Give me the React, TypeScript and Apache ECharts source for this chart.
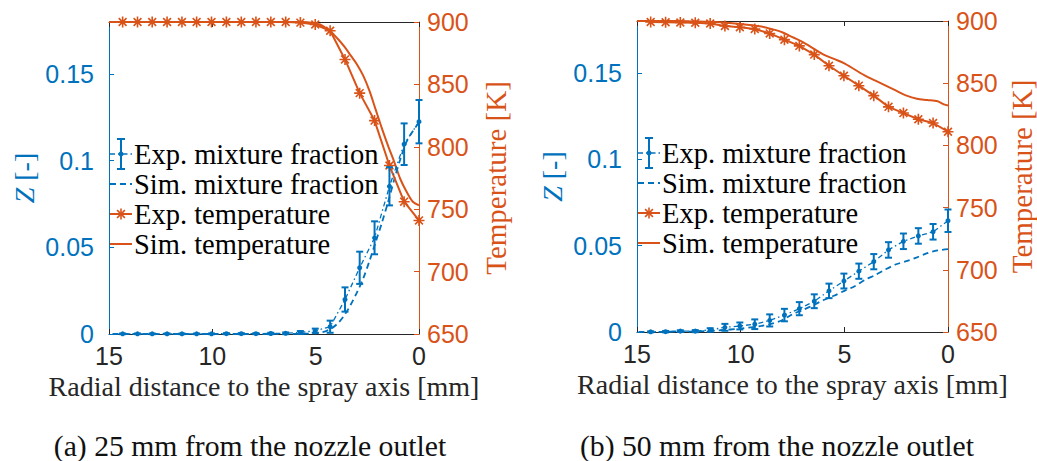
import React, { useEffect, useRef } from "react";
import * as echarts from "echarts";

const BLUE = "#0072BD";
const ORANGE = "#D95319";
const INK = "#262626";
const SANS = "'Liberation Sans', Arial, sans-serif";
const SERIF = "'Liberation Serif', 'Times New Roman', serif";

// Radial measurement stations [mm]
const STATIONS = [0, 0.72, 1.43, 2.15, 2.87, 3.58, 4.3, 5.02, 5.74, 6.45, 7.17, 7.89, 8.6, 9.32, 10.04, 10.76, 11.47, 12.19, 12.91, 13.62, 14.34];

// (a) 25 mm from the nozzle outlet
const EXP_Z_A = [0.1225, 0.1095, 0.0852, 0.0555, 0.0382, 0.0199, 0.0042, 0.0019, 0.0009, 0.0004, 0.0003, 0.0002, 0.0002, 0.0002, 0.0001, 0.0001, 0.0001, 0.0001, 0.0001, 0.0001, 0.0001];
const EXP_Z_ERR_A = [0.0125, 0.012, 0.011, 0.0095, 0.0093, 0.007, 0.0035, 0.0012, 0.0008, 0.0005, 0.0004, 0.0003, 0.0003, 0.0003, 0.0002, 0.0002, 0.0002, 0.0002, 0.0002, 0.0002, 0.0002];
const EXP_T_A = [741, 756, 785, 821, 843, 870, 893, 898, 899.5, 900, 900, 900, 900, 900, 900, 900, 900, 900, 900, 900, 900];
const SIM_Z_R_A = [0, 0.3, 0.6, 0.9, 1.2, 1.5, 1.8, 2.1, 2.4, 2.7, 3.0, 3.3, 3.6, 3.9, 4.2, 4.5, 4.8, 5.2, 6, 8, 11, 15];
const SIM_Z_A = [0.122, 0.117, 0.111, 0.101, 0.089, 0.076, 0.064, 0.053, 0.042, 0.032, 0.024, 0.017, 0.011, 0.0065, 0.0035, 0.0017, 0.0008, 0.0003, 0.0001, 0, 0, 0];
const SIM_T_R_A = [0, 0.3, 0.6, 0.9, 1.2, 1.5, 1.8, 2.1, 2.4, 2.7, 3.0, 3.3, 3.6, 3.9, 4.2, 4.5, 4.8, 5.2, 5.6, 6, 8, 11, 15];
const SIM_T_A = [753, 756, 764, 774, 788, 801, 815, 830, 845, 857, 866, 873, 880, 886, 891, 895, 898, 899.5, 900, 900, 900, 900, 900];

// (b) 50 mm from the nozzle outlet
const EXP_Z_B = [0.0644, 0.058, 0.0556, 0.0525, 0.0475, 0.0407, 0.0352, 0.0295, 0.0238, 0.0178, 0.0135, 0.0098, 0.0067, 0.0045, 0.0035, 0.0027, 0.0012, 0.0005, 0.0005, 0.0002, 0.0001];
const EXP_Z_ERR_B = [0.0065, 0.0045, 0.0045, 0.0045, 0.0045, 0.0044, 0.0044, 0.0043, 0.0042, 0.004, 0.0038, 0.0036, 0.0035, 0.0028, 0.002, 0.002, 0.001, 0.0006, 0.0005, 0.0004, 0.0003];
const EXP_T_B = [811, 818, 821, 826, 831, 840, 848, 856, 864, 873, 880, 885, 890, 893.6, 895, 896, 898, 898.6, 898.8, 899, 899.2];
const SIM_Z_R_B = [0, 0.5, 1, 1.5, 2, 2.5, 3, 3.5, 4, 4.5, 5, 5.5, 6, 6.5, 7, 7.5, 8, 8.5, 9, 10, 11, 12, 13, 15];
const SIM_Z_B = [0.048, 0.0472, 0.0456, 0.0432, 0.041, 0.0392, 0.0363, 0.033, 0.0302, 0.0265, 0.0238, 0.021, 0.0185, 0.0155, 0.0128, 0.0103, 0.0068, 0.0048, 0.0035, 0.002, 0.001, 0.0004, 0.0002, 0];
const SIM_T_R_B = [0, 0.2, 0.5, 1, 1.5, 2, 2.5, 3, 3.5, 4, 4.5, 5, 5.5, 6, 6.5, 7, 7.5, 8, 8.5, 9, 10, 11, 12, 13, 15];
const SIM_T_B = [832, 833, 835.5, 836.5, 837.5, 840, 844, 848, 852, 856, 861, 866, 869.5, 873, 878, 883, 887, 891, 893.5, 895.5, 897.6, 899, 899.5, 900, 900];

const LEGEND_LABELS = [
  "Exp. mixture fraction",
  "Sim. mixture fraction",
  "Exp. temperature",
  "Sim. temperature",
];
const CAPTIONS = [
  "(a) 25 mm from the nozzle outlet",
  "(b) 50 mm from the nozzle outlet",
];
const X_NAME = "Radial distance to the spray axis [mm]";

const ASTERISK = "path://M0,-10L0,10M-10,0L10,0M-7.1,-7.1L7.1,7.1M-7.1,7.1L7.1,-7.1";

type Panel = {
  rect: { left: number; top: number; width: number; height: number };
  expZ: number[];
  expZErr: number[];
  expT: number[];
  simZR: number[];
  simZ: number[];
  simTR: number[];
  simT: number[];
  tempGap: number;
  caption: string;
  captionX: number;
};

const PANELS: Panel[] = [
  {
    rect: { left: 109, top: 22, width: 310, height: 312 },
    expZ: EXP_Z_A, expZErr: EXP_Z_ERR_A, expT: EXP_T_A,
    simZR: SIM_Z_R_A, simZ: SIM_Z_A, simTR: SIM_T_R_A, simT: SIM_T_A,
    tempGap: 62, caption: CAPTIONS[0], captionX: 250,
  },
  {
    rect: { left: 637, top: 21, width: 311, height: 311 },
    expZ: EXP_Z_B, expZErr: EXP_Z_ERR_B, expT: EXP_T_B,
    simZR: SIM_Z_R_B, simZ: SIM_Z_B, simTR: SIM_T_R_B, simT: SIM_T_B,
    tempGap: 59, caption: CAPTIONS[1], captionX: 777,
  },
];

const zip = (xs: number[], ys: number[]) => xs.map((x, i) => [x, ys[i]]);

function errorBarRenderer(params: any, api: any) {
  const x = api.value(0);
  const y = api.value(1);
  const e = api.value(2);
  const hi = api.coord([x, y + e]);
  const lo = api.coord([x, y - e]);
  const hw = 3.5;
  const style = { stroke: BLUE, lineWidth: 2 };
  return {
    type: "group",
    children: [
      { type: "line", shape: { x1: hi[0], y1: hi[1], x2: lo[0], y2: lo[1] }, style },
      { type: "line", shape: { x1: hi[0] - hw, y1: hi[1], x2: hi[0] + hw, y2: hi[1] }, style },
      { type: "line", shape: { x1: lo[0] - hw, y1: lo[1], x2: lo[0] + hw, y2: lo[1] }, style },
    ],
  };
}

function legendGraphic(L: number, T: number) {
  const rows = LEGEND_LABELS.map((_, k) => T + 132 + k * 30);
  const x0 = L + 1;
  const x1 = L + 23;
  const xc = L + 12;
  const items: any[] = [];
  // Exp. mixture fraction: dash-dot line, error bar, dot
  items.push({ type: "line", shape: { x1: x0, y1: rows[0], x2: x1, y2: rows[0] }, style: { stroke: BLUE, lineWidth: 1.3, lineDash: [5, 3, 1.5, 3] } });
  items.push({ type: "line", shape: { x1: xc, y1: rows[0] - 15, x2: xc, y2: rows[0] + 15 }, style: { stroke: BLUE, lineWidth: 2 } });
  items.push({ type: "line", shape: { x1: xc - 4, y1: rows[0] - 15, x2: xc + 4, y2: rows[0] - 15 }, style: { stroke: BLUE, lineWidth: 2 } });
  items.push({ type: "line", shape: { x1: xc - 4, y1: rows[0] + 15, x2: xc + 4, y2: rows[0] + 15 }, style: { stroke: BLUE, lineWidth: 2 } });
  items.push({ type: "circle", shape: { cx: xc, cy: rows[0], r: 2.5 }, style: { fill: BLUE } });
  // Sim. mixture fraction: dashed
  items.push({ type: "line", shape: { x1: x0, y1: rows[1], x2: x1, y2: rows[1] }, style: { stroke: BLUE, lineWidth: 1.8, lineDash: [6, 4] } });
  // Exp. temperature: line with asterisk
  items.push({ type: "line", shape: { x1: x0, y1: rows[2], x2: x1, y2: rows[2] }, style: { stroke: ORANGE, lineWidth: 2 } });
  const r = 5.5;
  const d = r * 0.71;
  [[0, -r, 0, r], [-r, 0, r, 0], [-d, -d, d, d], [-d, d, d, -d]].forEach(([a, b, c, e]) => {
    items.push({ type: "line", shape: { x1: xc + a, y1: rows[2] + b, x2: xc + c, y2: rows[2] + e }, style: { stroke: ORANGE, lineWidth: 1.6 } });
  });
  // Sim. temperature: solid
  items.push({ type: "line", shape: { x1: x0, y1: rows[3], x2: x1, y2: rows[3] }, style: { stroke: ORANGE, lineWidth: 2 } });
  LEGEND_LABELS.forEach((label, k) => {
    items.push({
      type: "text",
      x: L + 25,
      y: rows[k],
      style: {
        text: label,
        fill: "#000",
        font: `28.5px ${SERIF}`,
        align: "left",
        textAlign: "left",
        verticalAlign: "middle",
        textVerticalAlign: "middle",
      },
    });
  });
  return items;
}

function buildOption() {
  const grid: any[] = [];
  const xAxis: any[] = [];
  const yAxis: any[] = [];
  const series: any[] = [];
  const graphic: any[] = [];

  PANELS.forEach((p, i) => {
    grid.push({ ...p.rect, containLabel: false });
    const xBase = {
      type: "value",
      gridIndex: i,
      min: 0,
      max: 15,
      interval: 5,
      inverse: true,
      splitLine: { show: false },
      axisLine: { show: true, onZero: false, lineStyle: { color: INK, width: 1 } },
      axisTick: { show: true, inside: true, length: 5, lineStyle: { color: INK } },
    };
    xAxis.push({
      ...xBase,
      position: "bottom",
      axisLabel: { color: INK, fontSize: 25, fontFamily: SANS, margin: 9 },
      name: X_NAME,
      nameLocation: "middle",
      nameGap: 37,
      nameTextStyle: { color: INK, fontSize: 28, fontFamily: SERIF },
    });
    xAxis.push({ ...xBase, position: "top", axisLabel: { show: false } });

    yAxis.push({
      type: "value",
      gridIndex: i,
      position: "left",
      min: 0,
      max: 0.18,
      interval: 0.05,
      splitLine: { show: false },
      axisLine: { show: true, onZero: false, lineStyle: { color: BLUE, width: 1 } },
      axisTick: { show: true, inside: true, length: 5, lineStyle: { color: BLUE } },
      axisLabel: { color: BLUE, fontSize: 25, fontFamily: SANS, margin: 15, showMaxLabel: false },
      name: "{i|Z} [-]",
      nameLocation: "middle",
      nameRotate: 90,
      nameGap: 71,
      nameTextStyle: {
        color: BLUE,
        fontSize: 28,
        fontFamily: SERIF,
        rich: { i: { fontStyle: "italic", fontSize: 28, fontFamily: SERIF, color: BLUE } },
      },
    });
    yAxis.push({
      type: "value",
      gridIndex: i,
      position: "right",
      min: 650,
      max: 900,
      interval: 50,
      splitLine: { show: false },
      axisLine: { show: true, onZero: false, lineStyle: { color: ORANGE, width: 1 } },
      axisTick: { show: true, inside: true, length: 5, lineStyle: { color: ORANGE } },
      axisLabel: { color: ORANGE, fontSize: 25, fontFamily: SANS, margin: 8 },
      name: "Temperature [K]",
      nameLocation: "middle",
      nameRotate: 90,
      nameGap: p.tempGap,
      nameTextStyle: { color: ORANGE, fontSize: 29, fontFamily: SERIF },
    });

    const xi = i * 2;
    const zi = i * 2;
    const ti = i * 2 + 1;

    series.push({
      name: LEGEND_LABELS[3],
      type: "line",
      xAxisIndex: xi,
      yAxisIndex: ti,
      data: zip(p.simTR, p.simT),
      showSymbol: false,
      smooth: 0.3,
      lineStyle: { color: ORANGE, width: 2 },
      z: 2,
    });
    series.push({
      name: LEGEND_LABELS[2],
      type: "line",
      xAxisIndex: xi,
      yAxisIndex: ti,
      data: zip(STATIONS, p.expT),
      symbol: ASTERISK,
      symbolSize: 11,
      lineStyle: { color: ORANGE, width: 2 },
      itemStyle: { color: ORANGE, borderColor: ORANGE, borderWidth: 1.6 },
      clip: false,
      z: 3,
    });
    series.push({
      name: LEGEND_LABELS[1],
      type: "line",
      xAxisIndex: xi,
      yAxisIndex: zi,
      data: zip(p.simZR, p.simZ),
      showSymbol: false,
      smooth: 0.3,
      lineStyle: { color: BLUE, width: 1.8, type: [6, 4] },
      z: 2,
    });
    series.push({
      name: LEGEND_LABELS[0],
      type: "line",
      xAxisIndex: xi,
      yAxisIndex: zi,
      data: zip(STATIONS, p.expZ),
      symbol: "circle",
      symbolSize: 5,
      lineStyle: { color: BLUE, width: 1.3, type: [5, 3, 1.5, 3] },
      itemStyle: { color: BLUE },
      clip: false,
      z: 4,
    });
    series.push({
      type: "custom",
      xAxisIndex: xi,
      yAxisIndex: zi,
      data: STATIONS.map((x, k) => [x, p.expZ[k], p.expZErr[k]]),
      encode: { x: 0, y: 1 },
      renderItem: errorBarRenderer,
      clip: false,
      silent: true,
      z: 4,
    });

    graphic.push(...legendGraphic(p.rect.left, p.rect.top));
    graphic.push({
      type: "text",
      x: p.captionX,
      y: 446,
      style: {
        text: p.caption,
        fill: "#111",
        font: `29.7px ${SERIF}`,
        align: "center",
        textAlign: "center",
        verticalAlign: "middle",
        textVerticalAlign: "middle",
      },
    });
  });

  return {
    animation: false,
    backgroundColor: "#ffffff",
    grid,
    xAxis,
    yAxis,
    series,
    graphic,
  };
}

export default function App() {
  const ref = useRef<HTMLDivElement>(null);
  useEffect(() => {
    if (!ref.current) return;
    const chart = echarts.init(ref.current, undefined, { renderer: "svg" });
    chart.setOption(buildOption() as any);
    return () => chart.dispose();
  }, []);
  return (
    <div
      ref={ref}
      style={{ position: "fixed", left: 0, top: 0, width: 1037, height: 461, background: "#fff" }}
    />
  );
}
